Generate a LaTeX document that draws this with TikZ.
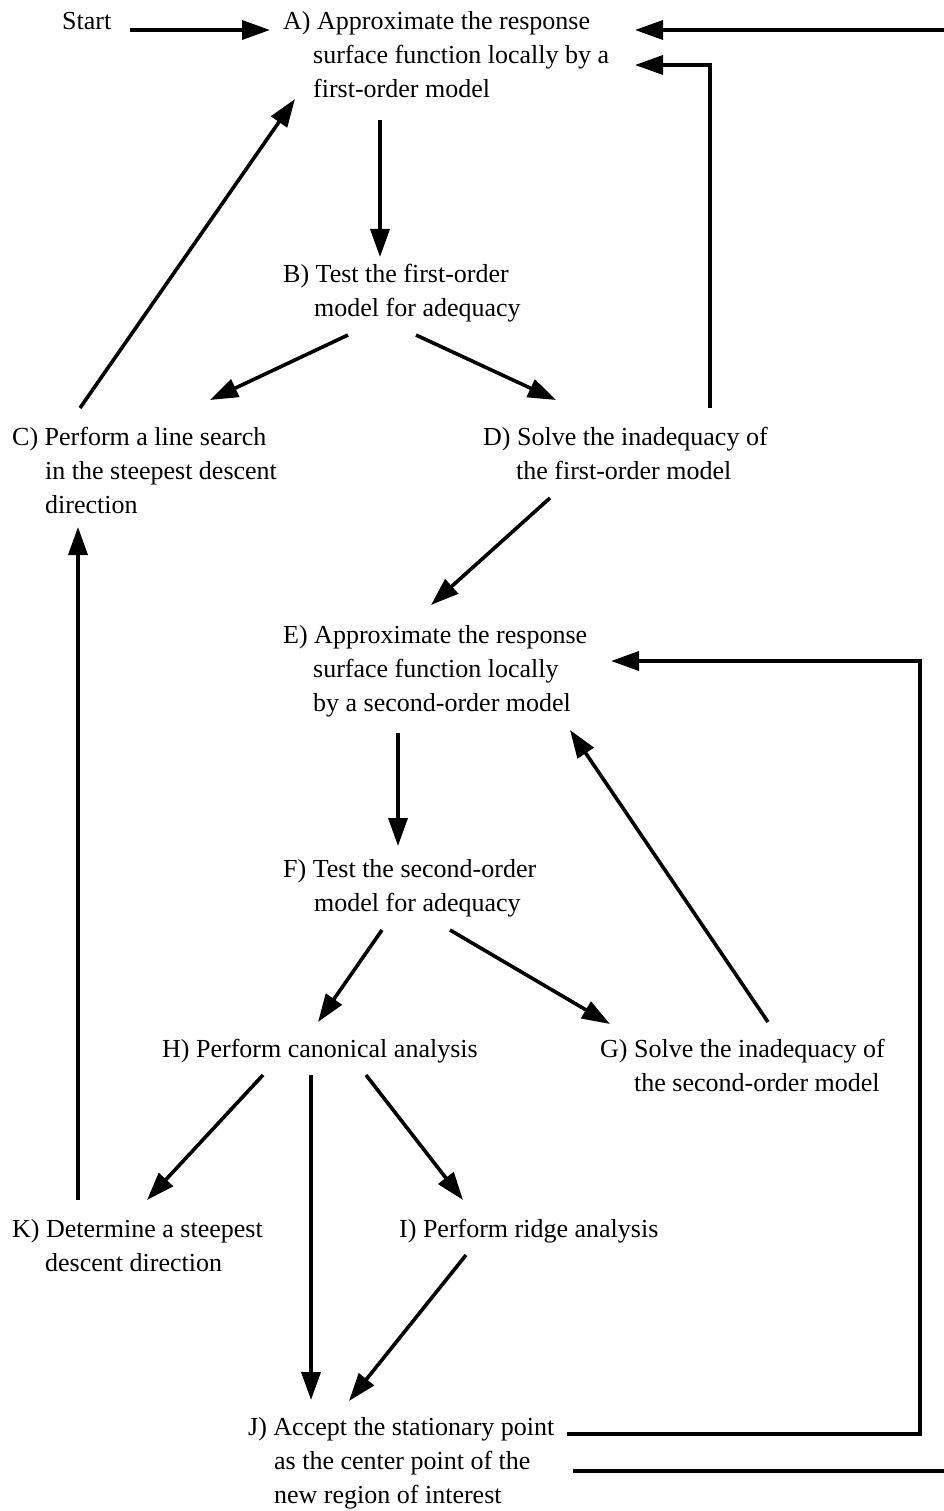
\documentclass[tikz,border=0pt]{standalone}
\usepackage{fontspec}
\setmainfont{Liberation Serif}
\usetikzlibrary{arrows.meta}
\newcommand\steplines[1]{\begin{tabular}[t]{@{}l@{}}#1\end{tabular}}
\newcommand\ind[1]{\hspace*{#1}}
\begin{document}
\begin{tikzpicture}[x=1pt,y=-1pt,
  txt/.style={anchor=base west, inner sep=0pt, font=\fontsize{26}{34}\selectfont},
  arr/.style={line width=3.6pt, -{Triangle[length=28pt,width=19pt]}},
  ln/.style={line width=3.6pt}]
\useasboundingbox (0,0) rectangle (944,1511);
% text nodes
\node[txt] (Start) at (62,30) {Start};
\node[txt] (A) at (283,30) {\steplines{A) Approximate the response\\\ind{30pt}surface function locally by a\\\ind{30pt}first-order model}};
\node[txt] (B) at (283,283) {\steplines{B) Test the first-order\\\ind{31pt}model for adequacy}};
\node[txt] (C) at (12,445) {\steplines{C) Perform a line search\\\ind{33pt}in the steepest descent\\\ind{33pt}direction}};
\node[txt] (D) at (483,445) {\steplines{D) Solve the inadequacy of\\\ind{33pt}the first-order model}};
\node[txt] (E) at (283,643) {\steplines{E) Approximate the response\\\ind{30pt}surface function locally\\\ind{30pt}by a second-order model}};
\node[txt] (F) at (283,877) {\steplines{F) Test the second-order\\\ind{31pt}model for adequacy}};
\node[txt] (H) at (162,1057) {H) Perform canonical analysis};
\node[txt] (G) at (600,1057) {\steplines{G) Solve the inadequacy of\\\ind{34pt}the second-order model}};
\node[txt] (K) at (12,1237) {\steplines{K) Determine a steepest\\\ind{33pt}descent direction}};
\node[txt] (I) at (399,1237) {I) Perform ridge analysis};
\node[txt] (J) at (248,1435) {\steplines{J) Accept the stationary point\\\ind{26pt}as the center point of the\\\ind{26pt}new region of interest}};
% connector end points
\coordinate (Start-o) at (130,30);  \coordinate (A-in1) at (270,30);
\coordinate (A-in2) at (635,30);    \coordinate (wrap-top) at (944,30);
\coordinate (D-up) at (710,408);    \coordinate (D-corner) at (710,65);
\coordinate (A-in3) at (635,65);
\coordinate (A-o) at (380,120);     \coordinate (B-in) at (380,257);
\coordinate (B-oC) at (348,335);    \coordinate (C-in) at (210,400);
\coordinate (B-oD) at (416,335);    \coordinate (D-in) at (556,400);
\coordinate (C-o) at (80,408);      \coordinate (A-in4) at (295,99);
\coordinate (K-o) at (78,1200);     \coordinate (C-in2) at (78,527);
\coordinate (D-o) at (550,498);     \coordinate (E-in1) at (431,605);
\coordinate (E-o) at (398,733);     \coordinate (F-in) at (398,846);
\coordinate (G-o) at (768,1022);    \coordinate (E-in2) at (570,730);
\coordinate (F-oH) at (382,930);    \coordinate (H-in) at (318,1022);
\coordinate (F-oG) at (450,930);    \coordinate (G-in) at (610,1024);
\coordinate (H-oK) at (263,1075);   \coordinate (K-in) at (147,1200);
\coordinate (H-oJ) at (311,1075);   \coordinate (J-in1) at (311,1400);
\coordinate (H-oI) at (366,1075);   \coordinate (I-in) at (463,1200);
\coordinate (I-o) at (466,1255);    \coordinate (J-in2) at (349,1401);
\coordinate (J-o1) at (567,1434);   \coordinate (J-c1) at (920,1434);
\coordinate (E-c1) at (920,661);    \coordinate (E-in3) at (611,661);
\coordinate (J-o2) at (573,1471);   \coordinate (wrap-bot) at (944,1471);
% connectors
\draw[arr] (Start-o) -- (A-in1);
\draw[arr] (wrap-top) -- (A-in2);
\draw[arr] (D-up) -- (D-corner) -- (A-in3);
\draw[arr] (A-o) -- (B-in);
\draw[arr] (B-oC) -- (C-in);
\draw[arr] (B-oD) -- (D-in);
\draw[arr] (C-o) -- (A-in4);
\draw[arr] (K-o) -- (C-in2);
\draw[arr] (D-o) -- (E-in1);
\draw[arr] (E-o) -- (F-in);
\draw[arr] (G-o) -- (E-in2);
\draw[arr] (F-oH) -- (H-in);
\draw[arr] (F-oG) -- (G-in);
\draw[arr] (H-oK) -- (K-in);
\draw[arr] (H-oJ) -- (J-in1);
\draw[arr] (H-oI) -- (I-in);
\draw[arr] (I-o) -- (J-in2);
\draw[arr] (J-o1) -- (J-c1) -- (E-c1) -- (E-in3);
\draw[ln] (J-o2) -- (wrap-bot);
\end{tikzpicture}
\end{document}
